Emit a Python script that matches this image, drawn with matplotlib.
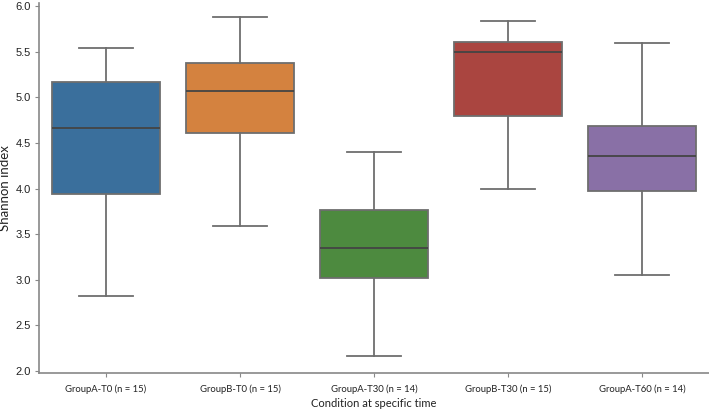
import matplotlib
matplotlib.use("Agg")
import matplotlib.pyplot as plt

categories = ["GroupA-T0 (n = 15)", "GroupB-T0 (n = 15)", "GroupA-T30 (n = 14)",
              "GroupB-T30 (n = 15)", "GroupA-T60 (n = 14)"]
whisker_low = [2.82, 3.59, 2.17, 3.99, 3.05]
q1 = [3.94, 4.61, 3.02, 4.79, 3.97]
median = [4.66, 5.07, 3.35, 5.50, 4.36]
q3 = [5.17, 5.38, 3.77, 5.61, 4.69]
whisker_high = [5.54, 5.88, 4.40, 5.84, 5.59]
colors = ["#3a6f9c", "#d4823f", "#4d8a3f", "#aa4540", "#8970a6"]
yticks = [2.0, 2.5, 3.0, 3.5, 4.0, 4.5, 5.0, 5.5, 6.0]

fig = plt.figure(figsize=(7.09, 4.12), dpi=100)
ax = fig.add_axes([0.055, 0.095, 0.945, 0.897])

stats = []
for i in range(len(categories)):
    stats.append(dict(med=median[i], q1=q1[i], q3=q3[i],
                      whislo=whisker_low[i], whishi=whisker_high[i], fliers=[]))

line_c = "#6e6e6e"
bp = ax.bxp(stats, positions=range(len(categories)), widths=0.8, patch_artist=True,
            showfliers=False,
            boxprops=dict(edgecolor=line_c, linewidth=1.3),
            medianprops=dict(color="#444444", linewidth=1.3),
            whiskerprops=dict(color=line_c, linewidth=1.3),
            capprops=dict(color=line_c, linewidth=1.3))
for patch, c in zip(bp["boxes"], colors):
    patch.set_facecolor(c)
for cap in bp["caps"]:
    x = cap.get_xdata()
    m = (x[0] + x[1]) / 2
    cap.set_xdata([m - 0.2, m + 0.2])

ax.set_xlim(-0.5, 4.5)
ax.set_ylim(1.98, 6.03)
ax.set_yticks(yticks)
ax.set_yticklabels([f"{v:.1f}" for v in yticks], fontsize=8, family="Liberation Sans", color="#222222")
ax.set_xticks(range(len(categories)))
ax.set_xticklabels(categories, fontsize=6.8, family="Lato", color="#222222")
ax.set_xlabel("Condition at specific time", fontsize=8, family="Lato", color="#222222", labelpad=3)
ax.set_ylabel("Shannon index", fontsize=9.5, family="Lato", color="#222222", labelpad=3)
for s in ["top", "right"]:
    ax.spines[s].set_visible(False)
for s in ["left", "bottom"]:
    ax.spines[s].set_color("#888888")
    ax.spines[s].set_linewidth(1.2)
ax.tick_params(axis="both", length=3, color="#888888", width=0.8, pad=3)
ax.tick_params(axis="x", pad=5)

fig.savefig("out.png", dpi=100)
